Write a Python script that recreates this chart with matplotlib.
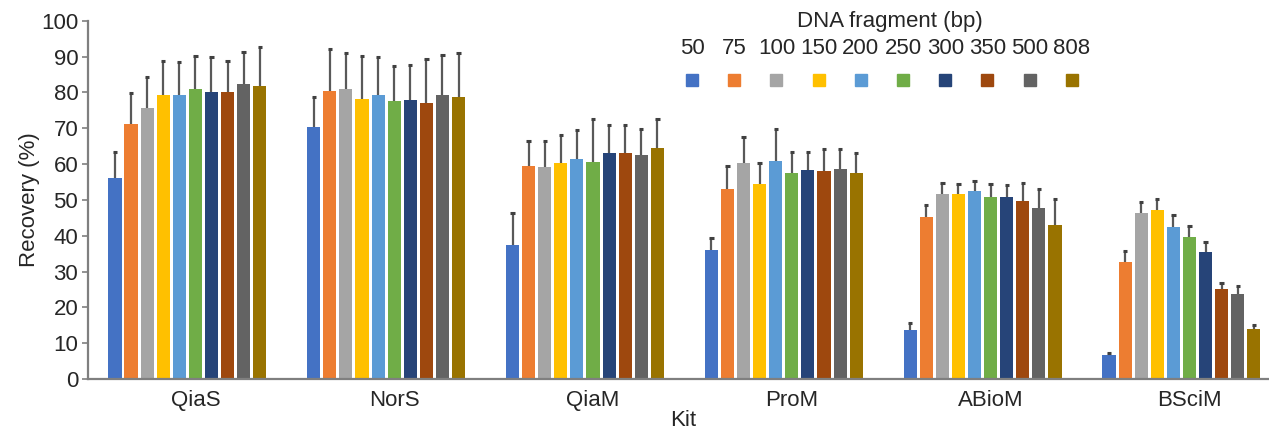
import numpy as np
import matplotlib
matplotlib.use("Agg")
import matplotlib.pyplot as plt
from matplotlib.patches import Rectangle

plt.rcParams['font.family'] = ['Liberation Sans', 'DejaVu Sans']

# data
kits = ["QiaS", "NorS", "QiaM", "ProM", "ABioM", "BSciM"]
fragments = ["50", "75", "100", "150", "200", "250", "300", "350", "500", "808"]
colors = ["#4472C4", "#ED7D31", "#A5A5A5", "#FFC000", "#5B9BD5",
          "#70AD47", "#264478", "#9E480E", "#636363", "#997300"]

# recovery (%) per kit, one value per fragment size
qias = [56.0, 71.3, 75.5, 79.3, 79.3, 81.0, 80.1, 80.0, 82.4, 81.8]
nors = [70.3, 80.5, 81.0, 78.2, 79.3, 77.5, 77.9, 76.9, 79.3, 78.7]
qiam = [37.4, 59.4, 59.1, 60.2, 61.5, 60.5, 63.0, 63.0, 62.6, 64.4]
prom = [36.0, 53.1, 60.2, 54.5, 60.8, 57.4, 58.3, 58.0, 58.6, 57.4]
abiom = [13.7, 45.1, 51.6, 51.6, 52.4, 50.9, 50.9, 49.7, 47.8, 43.0]
bscim = [6.7, 32.7, 46.2, 47.2, 42.5, 39.7, 35.5, 25.0, 23.7, 14.0]

# upper error bar (sd)
qias_sd = [7.3, 8.4, 8.8, 9.4, 9.1, 9.1, 9.7, 8.8, 8.8, 10.9]
nors_sd = [8.4, 11.6, 10.0, 11.9, 10.5, 9.8, 9.7, 12.4, 11.1, 12.2]
qiam_sd = [9.0, 6.9, 7.2, 7.9, 8.0, 12.2, 7.9, 7.9, 7.2, 8.3]
prom_sd = [3.4, 6.3, 7.4, 5.9, 9.0, 6.0, 5.1, 6.1, 5.5, 5.7]
abiom_sd = [2.0, 3.5, 3.2, 2.9, 2.9, 3.6, 3.2, 5.1, 5.1, 7.1]
bscim_sd = [0.5, 3.0, 3.3, 2.9, 3.3, 3.1, 2.8, 1.7, 2.3, 1.1]

vals = np.array([qias, nors, qiam, prom, abiom, bscim])
sds = np.array([qias_sd, nors_sd, qiam_sd, prom_sd, abiom_sd, bscim_sd])

fig = plt.figure(figsize=(12.69, 4.32), dpi=100)
ax = fig.add_axes([88 / 1269, 53 / 432, 1 - 88 / 1269, 358.3 / 432])

x = np.arange(len(kits))
pitch = 0.0809
width = 0.066
grey = "#7f7f7f"
for j in range(len(fragments)):
    xs = x + (j - 5) * pitch
    ax.bar(xs, vals[:, j], width=width, color=colors[j], zorder=2)
    tops = vals[:, j] + sds[:, j]
    ax.vlines(xs, vals[:, j], tops, color="#595959", lw=1.6, zorder=3)
    ax.hlines(tops, xs - 0.011, xs + 0.011, color="#404040", lw=2.2, zorder=3)

ax.set_xlim(-0.54, 5.40)
ax.set_ylim(0, 100)
ax.set_yticks(np.arange(0, 101, 10))
ax.set_xticks(x)
ax.set_xticklabels(kits)
ax.tick_params(axis='x', length=0, pad=8, labelsize=16, labelcolor="#262626")
ax.tick_params(axis='y', length=4, width=1.2, color=grey, pad=3,
               labelsize=16, labelcolor="#262626")
for s in ["top", "right"]:
    ax.spines[s].set_visible(False)
for s in ["left", "bottom"]:
    ax.spines[s].set_color(grey)
    ax.spines[s].set_linewidth(1.6)

fig.text(30 / 1269, 1 - 200 / 432, "Recovery (%)", rotation=90, ha="center",
         va="center", fontsize=16, color="#262626")
fig.text(683 / 1269, 1 - 420 / 432, "Kit", ha="center", va="center",
         fontsize=16, color="#262626")

# legend: numbers above colour squares
fig.text(890 / 1269, 1 - 21 / 432, "DNA fragment (bp)", ha="center",
         va="center", fontsize=16, color="#262626")
for j, lab in enumerate(fragments):
    cx = 692 + 42.2 * j
    fig.text(cx / 1269, 1 - 49 / 432, lab, ha="center", va="center",
             fontsize=16, color="#262626")
    fig.patches.append(Rectangle(((cx - 6) / 1269, 1 - 86 / 432), 12 / 1269, 12 / 432,
                                 transform=fig.transFigure, color=colors[j]))

fig.savefig("out.png", dpi=100)
